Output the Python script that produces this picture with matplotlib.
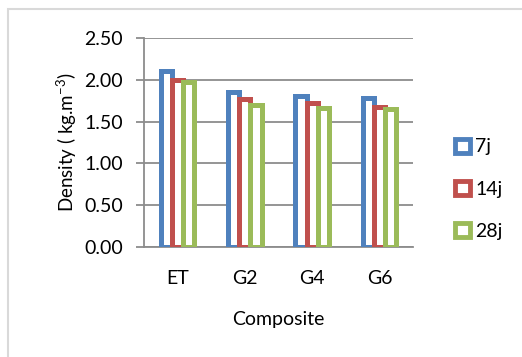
import numpy as np
import matplotlib
matplotlib.use("Agg")
import matplotlib.pyplot as plt
from matplotlib.patches import Patch, Rectangle

plt.rcParams["font.family"] = ["Lato", "DejaVu Sans"]
plt.rcParams["mathtext.default"] = "regular"

composites = ["ET", "G2", "G4", "G6"]
series = ["7j", "14j", "28j"]
density_7j = [2.11, 1.86, 1.81, 1.78]
density_14j = [2.00, 1.77, 1.72, 1.68]
density_28j = [1.97, 1.70, 1.66, 1.65]
yticks = [0.0, 0.5, 1.0, 1.5, 2.0, 2.5]

colors = ["#4F81BD", "#C0504D", "#9BBB59"]
grid_color = "#8C8C8C"
fs = 14

fig = plt.figure(figsize=(5.22, 3.57), dpi=100)
ax = fig.add_axes([0.2759, 0.309, 0.5153, 0.5838])

# light frame around the chart area
fig.add_artist(Rectangle((8 / 522, -0.1), 1.2, (357 - 9) / 357 + 0.1,
                         transform=fig.transFigure, fill=False,
                         edgecolor="#D9D9D9", linewidth=1.5))

x = np.arange(len(composites))
width = 0.165
for i, (vals, col) in enumerate(zip([density_7j, density_14j, density_28j], colors)):
    ax.bar(x + (i - 1) * width, vals, width=width, facecolor="white",
           edgecolor=col, linewidth=3.6, zorder=3)

ax.set_xlim(-0.5, len(composites) - 0.5)
ax.set_ylim(0, 2.5)
ax.set_yticks(yticks)
ax.set_yticklabels([f"{v:.2f}" for v in yticks])
ax.set_xticks(x)
ax.set_xticklabels(composites)

ax.yaxis.grid(True, color=grid_color, linewidth=1.3, zorder=0)
ax.set_axisbelow(True)
for s in ("top", "right"):
    ax.spines[s].set_visible(False)
for s in ("left", "bottom"):
    ax.spines[s].set_color(grid_color)
    ax.spines[s].set_linewidth(1.3)
ax.tick_params(axis="y", length=6, width=1.3, color=grid_color, labelsize=fs, pad=9)
ax.tick_params(axis="x", length=0, labelsize=fs, pad=17)

ax.set_xlabel("Composite", fontsize=fs, labelpad=17)
ax.set_ylabel("Density ( kg.m$^{-3}$)", fontsize=13.5, labelpad=4)

handles = [Patch(facecolor="white", edgecolor=c, linewidth=3.5) for c in colors]
fig.legend(handles, series, loc="center left", bbox_to_anchor=(0.838, 0.47),
           frameon=False, fontsize=fs, handlelength=0.75, handleheight=0.75,
           handletextpad=0.3, labelspacing=1.3)

fig.savefig("out.png", dpi=100)
